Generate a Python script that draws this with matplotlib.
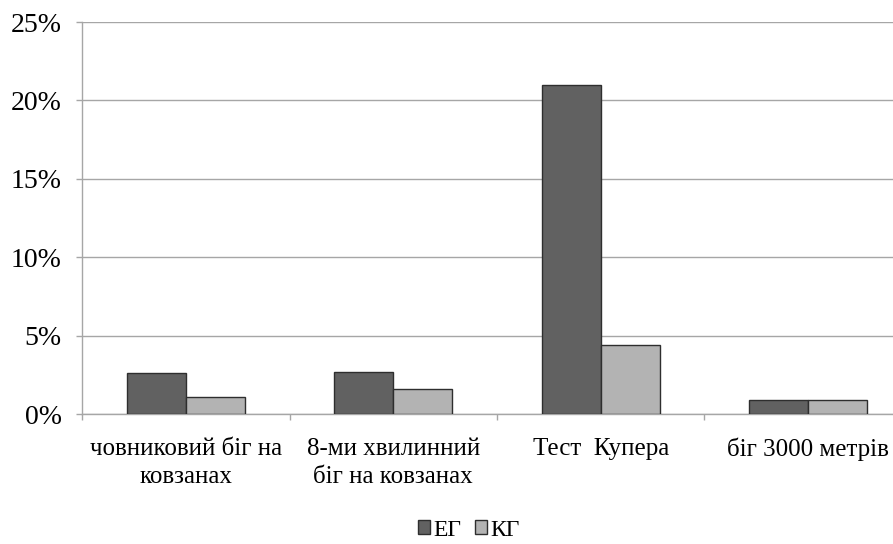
import numpy as np
import matplotlib.pyplot as plt
from matplotlib.patches import Patch

categories = ['човниковий біг на\nковзанах', '8-ми хвилинний\nбіг на ковзанах', 'Тест  Купера', 'біг 3000 метрів']
eg = [2.6, 2.7, 21.0, 0.9]
kg = [1.1, 1.6, 4.4, 0.9]
yticks = [0, 5, 10, 15, 20, 25]

plt.rcParams['font.family'] = ['Liberation Serif', 'DejaVu Serif']

fig = plt.figure(figsize=(8.93, 5.44), dpi=100)
ax = fig.add_axes([82/893, 130/544, 830/893, 392/544])

x = np.arange(len(categories))
w = 0.285
ax.bar(x - w/2, eg, w, color='#616161', edgecolor='#2e2e2e', linewidth=1, zorder=3, label='ЕГ')
ax.bar(x + w/2, kg, w, color='#b3b3b3', edgecolor='#2e2e2e', linewidth=1, zorder=3, label='КГ')

ax.set_xlim(-0.5, len(categories) - 0.5)
ax.set_ylim(0, 25)
ax.set_yticks(yticks)
ax.set_yticklabels([f'{v}%' for v in yticks], fontsize=20)
ax.yaxis.grid(True, color='#a6a6a6', linewidth=1)
ax.set_axisbelow(True)

# category labels centred, tick marks on the group boundaries
ax.set_xticks(x)
ax.set_xticklabels(categories, fontsize=18, linespacing=1.4, va='top')
ax.tick_params(axis='x', length=0, pad=17)
ax.set_xticks(np.arange(len(categories) + 1) - 0.5, minor=True)
ax.tick_params(axis='x', which='minor', length=4.5, color='#a6a6a6', width=1)
ax.tick_params(axis='y', length=4.5, color='#a6a6a6', width=1, pad=10)

for s in ['top', 'right']:
    ax.spines[s].set_visible(False)
for s in ['left', 'bottom']:
    ax.spines[s].set_color('#a6a6a6')
    ax.spines[s].set_linewidth(1)

handles = [Patch(facecolor='#616161', edgecolor='#2e2e2e'), Patch(facecolor='#b3b3b3', edgecolor='#2e2e2e')]
fig.legend(handles, ['ЕГ', 'КГ'], loc='center', bbox_to_anchor=(469/893, 1 - 530/544), ncol=2,
           frameon=False, fontsize=17, handlelength=0.5, handleheight=0.5, handletextpad=0.15,
           columnspacing=0.6)

fig.savefig('out.png', dpi=100)
